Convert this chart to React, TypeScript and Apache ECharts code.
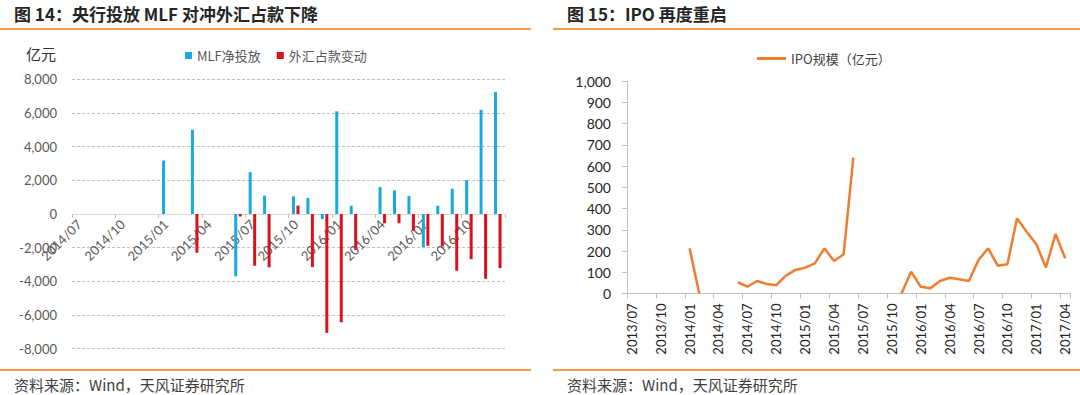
import React, { useEffect, useRef } from 'react';
import * as echarts from 'echarts';

const leftCategories = [
  '2014/07', '2014/08', '2014/09', '2014/10', '2014/11', '2014/12',
  '2015/01', '2015/02', '2015/03', '2015/04', '2015/05', '2015/06',
  '2015/07', '2015/08', '2015/09', '2015/10', '2015/11', '2015/12',
  '2016/01', '2016/02', '2016/03', '2016/04', '2016/05', '2016/06',
  '2016/07', '2016/08', '2016/09', '2016/10', '2016/11', '2016/12',
];

const mlfNet = [
  null, null, null, null, null, null,
  3170, null, 5000, null, null, -3700,
  2480, 1090, null, 1050, 960, -300,
  6100, 490, null, 1600, 1400, 1065,
  -1970, 490, 1500, 2010, 6190, 7240,
];

const fxChange = [
  null, null, null, null, null, null,
  null, null, -2300, null, null, -150,
  -3080, -3170, null, 500, -3150, -7060,
  -6430, -2130, null, -550, -550, -1000,
  -1890, -1930, -3370, -2680, -3850, -3215,
];

const rightCategories = [
  '2013/07', '2013/08', '2013/09', '2013/10', '2013/11', '2013/12',
  '2014/01', '2014/02', '2014/03', '2014/04', '2014/05', '2014/06',
  '2014/07', '2014/08', '2014/09', '2014/10', '2014/11', '2014/12',
  '2015/01', '2015/02', '2015/03', '2015/04', '2015/05', '2015/06',
  '2015/07', '2015/08', '2015/09', '2015/10', '2015/11', '2015/12',
  '2016/01', '2016/02', '2016/03', '2016/04', '2016/05', '2016/06',
  '2016/07', '2016/08', '2016/09', '2016/10', '2016/11', '2016/12',
  '2017/01', '2017/02', '2017/03', '2017/04',
];

const ipoSize = [
  null, null, null, null, null, null,
  213, 0, null, null, null, 53,
  32, 59, 45, 39, 84, 111,
  122, 142, 213, 153, 185, 640,
  null, null, null, null, 0, 103,
  32, 25, 59, 74, 67, 59,
  158, 213, 131, 138, 354, 291,
  232, 123, 280, 166,
];

const CJK = '"Noto Sans CJK SC", "Noto Sans", sans-serif';
const NUM = 'Lato, "Noto Sans CJK SC", sans-serif';
const ORANGE_RULE = '#F29A4A';
const fmt = (v: number) => v.toLocaleString('en-US');

const LEFT_TOP = 79.3;
const LEFT_HEIGHT = 269.4;

export default function App() {
  const ref = useRef<HTMLDivElement>(null);

  useEffect(() => {
    document.body.style.margin = '0';
    const chart = echarts.init(ref.current!, null, { renderer: 'svg' });
    const option: any = {
      animation: false,
      backgroundColor: '#ffffff',
      graphic: [
        { type: 'text', style: { text: '图 14：央行投放 MLF 对冲外汇占款下降', x: 14, y: 13, verticalAlign: 'middle', fontSize: 17, fontWeight: 'bold', fontFamily: CJK, fill: '#262626' } },
        { type: 'text', style: { text: '图 15：IPO 再度重启', x: 567, y: 13, verticalAlign: 'middle', fontSize: 17, fontWeight: 'bold', fontFamily: CJK, fill: '#262626' } },
        { type: 'line', shape: { x1: 0, y1: 29, x2: 531, y2: 29 }, style: { stroke: ORANGE_RULE, lineWidth: 2 } },
        { type: 'line', shape: { x1: 553, y1: 29, x2: 1080, y2: 29 }, style: { stroke: ORANGE_RULE, lineWidth: 2 } },
        { type: 'line', shape: { x1: 0, y1: 370, x2: 531, y2: 370 }, style: { stroke: ORANGE_RULE, lineWidth: 2 } },
        { type: 'line', shape: { x1: 553, y1: 370, x2: 1080, y2: 370 }, style: { stroke: ORANGE_RULE, lineWidth: 2 } },
        { type: 'text', style: { text: '资料来源：Wind，天风证券研究所', x: 14, y: 384, verticalAlign: 'middle', fontSize: 15, fontFamily: CJK, fill: '#404040' } },
        { type: 'text', style: { text: '资料来源：Wind，天风证券研究所', x: 567, y: 384, verticalAlign: 'middle', fontSize: 15, fontFamily: CJK, fill: '#404040' } },
        { type: 'text', style: { text: '亿元', x: 26, y: 53, verticalAlign: 'middle', fontSize: 15, fontFamily: CJK, fill: '#333333' } },
      ],
      legend: [
        {
          data: ['MLF净投放', '外汇占款变动'],
          left: 180,
          top: 44,
          icon: 'rect',
          itemWidth: 7,
          itemHeight: 7,
          itemGap: 16,
          textStyle: { fontSize: 13, color: '#595959', fontFamily: CJK },
        },
        {
          data: ['IPO规模（亿元）'],
          left: 752,
          top: 47,
          icon: 'rect',
          itemWidth: 29,
          itemHeight: 3,
          textStyle: { fontSize: 13, color: '#404040', fontFamily: CJK },
        },
      ],
      grid: [
        { left: 72, top: LEFT_TOP, width: 433, height: LEFT_HEIGHT },
        { left: 627, top: 81.3, width: 443, height: 212.2 },
      ],
      xAxis: [
        {
          type: 'category',
          gridIndex: 0,
          data: leftCategories,
          position: 'bottom',
          offset: -(LEFT_HEIGHT / 2),
          axisLine: { onZero: false, lineStyle: { color: '#d9d9d9', width: 1 } },
          axisTick: { show: true, interval: 2, length: 4, lineStyle: { color: '#bfbfbf' } },
          axisLabel: { interval: 2, rotate: 45, fontSize: 13, color: '#595959', fontFamily: NUM, margin: 8 },
          splitLine: { show: false },
        },
        {
          type: 'category',
          gridIndex: 1,
          data: rightCategories,
          axisLine: { lineStyle: { color: '#bfbfbf', width: 1 } },
          axisTick: { show: true, interval: 2, length: 5, lineStyle: { color: '#bfbfbf' } },
          axisLabel: { interval: 2, rotate: 90, fontSize: 13, color: '#262626', fontFamily: NUM, margin: 10 },
          splitLine: { show: false },
        },
      ],
      yAxis: [
        {
          type: 'value',
          gridIndex: 0,
          min: -8000,
          max: 8000,
          interval: 2000,
          axisLine: { show: false },
          axisTick: { show: false },
          axisLabel: { formatter: fmt, fontSize: 13, color: '#595959', fontFamily: NUM, margin: 15 },
          splitLine: { show: true, lineStyle: { type: [3, 2], color: '#c0c0c0', width: 1 } },
        },
        {
          type: 'value',
          gridIndex: 1,
          min: 0,
          max: 1000,
          interval: 100,
          axisLine: { show: true, lineStyle: { color: '#bfbfbf', width: 1 } },
          axisTick: { show: true, length: 5, lineStyle: { color: '#bfbfbf' } },
          axisLabel: { formatter: fmt, fontSize: 14, color: '#262626', fontFamily: NUM, margin: 16 },
          splitLine: { show: false },
        },
      ],
      series: [
        {
          name: 'MLF净投放',
          type: 'bar',
          xAxisIndex: 0,
          yAxisIndex: 0,
          data: mlfNet,
          barWidth: 3,
          barGap: '50%',
          itemStyle: { color: '#1AA9DE' },
        },
        {
          name: '外汇占款变动',
          type: 'bar',
          xAxisIndex: 0,
          yAxisIndex: 0,
          data: fxChange,
          barWidth: 3,
          barGap: '50%',
          itemStyle: { color: '#D9121B' },
        },
        {
          name: 'IPO规模（亿元）',
          type: 'line',
          xAxisIndex: 1,
          yAxisIndex: 1,
          data: ipoSize,
          showSymbol: false,
          symbol: 'none',
          connectNulls: false,
          lineStyle: { color: '#ED7D31', width: 2.5 },
          itemStyle: { color: '#ED7D31' },
        },
      ],
    };
    chart.setOption(option);
    return () => chart.dispose();
  }, []);

  return <div ref={ref} style={{ width: 1080, height: 395 }} />;
}
